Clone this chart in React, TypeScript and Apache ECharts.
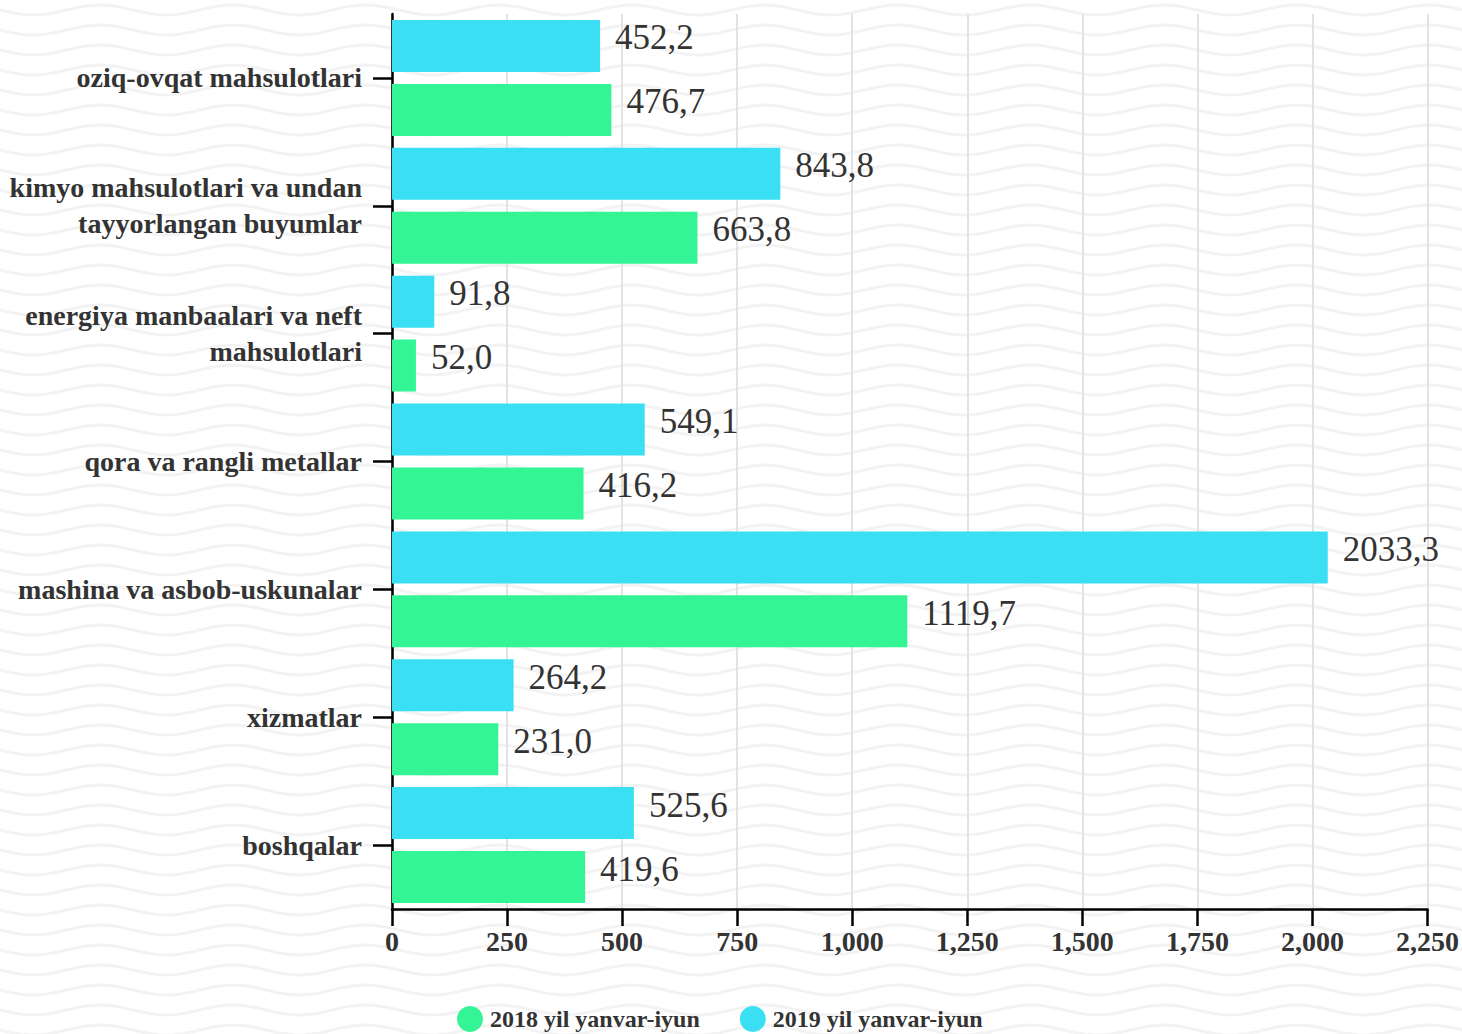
import React, { useEffect, useRef } from "react";
import * as echarts from "echarts";

const categories = [
  "oziq-ovqat mahsulotlari",
  "kimyo mahsulotlari va undan\ntayyorlangan buyumlar",
  "energiya manbaalari va neft\nmahsulotlari",
  "qora va rangli metallar",
  "mashina va asbob-uskunalar",
  "xizmatlar",
  "boshqalar",
];
const seriesNames = ["2018 yil yanvar-iyun", "2019 yil yanvar-iyun"];
const values2018 = [476.7, 663.8, 52.0, 416.2, 1119.7, 231.0, 419.6];
const values2019 = [452.2, 843.8, 91.8, 549.1, 2033.3, 264.2, 525.6];
const xTicks = [0, 250, 500, 750, 1000, 1250, 1500, 1750, 2000, 2250];

const W = 1462;
const H = 1034;
const SERIF = "'Liberation Serif', 'Times New Roman', serif";

function waveGraphics() {
  const out: any[] = [];
  for (let y0 = -10; y0 < H + 20; y0 += 20) {
    const pts: number[][] = [];
    for (let x = -10; x <= W + 10; x += 8) {
      pts.push([x, y0 + 5 * Math.sin((2 * Math.PI * x) / 133)]);
    }
    out.push({
      type: "polyline",
      silent: true,
      z: -10,
      shape: { points: pts },
      style: { stroke: "#f3f3f3", lineWidth: 3, fill: null },
    });
  }
  return out;
}

export default function App() {
  const ref = useRef<HTMLDivElement>(null);
  useEffect(() => {
    if (!ref.current) return;
    const chart = echarts.init(ref.current, null, { renderer: "svg" });
    const labelCfg = {
      show: true,
      position: "right",
      distance: 15,
      offset: [0, -8],
      fontFamily: SERIF,
      fontSize: 35,
      color: "#333",
      formatter: (p: any) => Number(p.value).toFixed(1).replace(".", ","),
    };
    chart.setOption({
      animation: false,
      backgroundColor: "#ffffff",
      graphic: waveGraphics(),
      legend: {
        data: seriesNames,
        icon: "circle",
        itemWidth: 26,
        itemHeight: 26,
        itemGap: 40,
        left: 452,
        top: 1001,
        textStyle: {
          fontFamily: SERIF,
          fontWeight: "bold",
          fontSize: 24,
          color: "#333",
          padding: [0, 0, 0, 2],
        },
      },
      grid: { left: 392, right: 31, top: 14, bottom: 125, containLabel: false },
      xAxis: {
        type: "value",
        min: 0,
        max: 2250,
        interval: 250,
        axisLine: { show: true, lineStyle: { color: "#000", width: 2.5 } },
        axisTick: { show: true, length: 17, lineStyle: { color: "#000", width: 2.5 } },
        splitLine: { show: true, lineStyle: { color: "#e2e2e2", width: 2 } },
        axisLabel: {
          margin: 18,
          fontFamily: SERIF,
          fontWeight: "bold",
          fontSize: 28,
          color: "#333",
          formatter: (v: number) => (xTicks.includes(v) ? v.toLocaleString("en-US") : ""),
        },
      },
      yAxis: {
        type: "category",
        inverse: true,
        data: categories,
        axisLine: { show: true, lineStyle: { color: "#000", width: 2.5 } },
        axisTick: { show: true, alignWithLabel: true, length: 19, lineStyle: { color: "#000", width: 2.5 } },
        axisLabel: {
          margin: 30,
          fontFamily: SERIF,
          fontWeight: "bold",
          fontSize: 28,
          lineHeight: 36,
          color: "#333",
          padding: [8, 0, 0, 0],
        },
      },
      series: [
        {
          name: seriesNames[1],
          type: "bar",
          data: values2019,
          barWidth: 52,
          barGap: "23%",
          itemStyle: { color: "#3bdff4" },
          label: labelCfg,
        },
        {
          name: seriesNames[0],
          type: "bar",
          data: values2018,
          barWidth: 52,
          barGap: "23%",
          itemStyle: { color: "#33f595" },
          label: labelCfg,
        },
      ],
    });
    return () => chart.dispose();
  }, []);
  return (
    <div
      ref={ref}
      style={{ position: "fixed", left: 0, top: 0, width: W, height: H }}
    />
  );
}
